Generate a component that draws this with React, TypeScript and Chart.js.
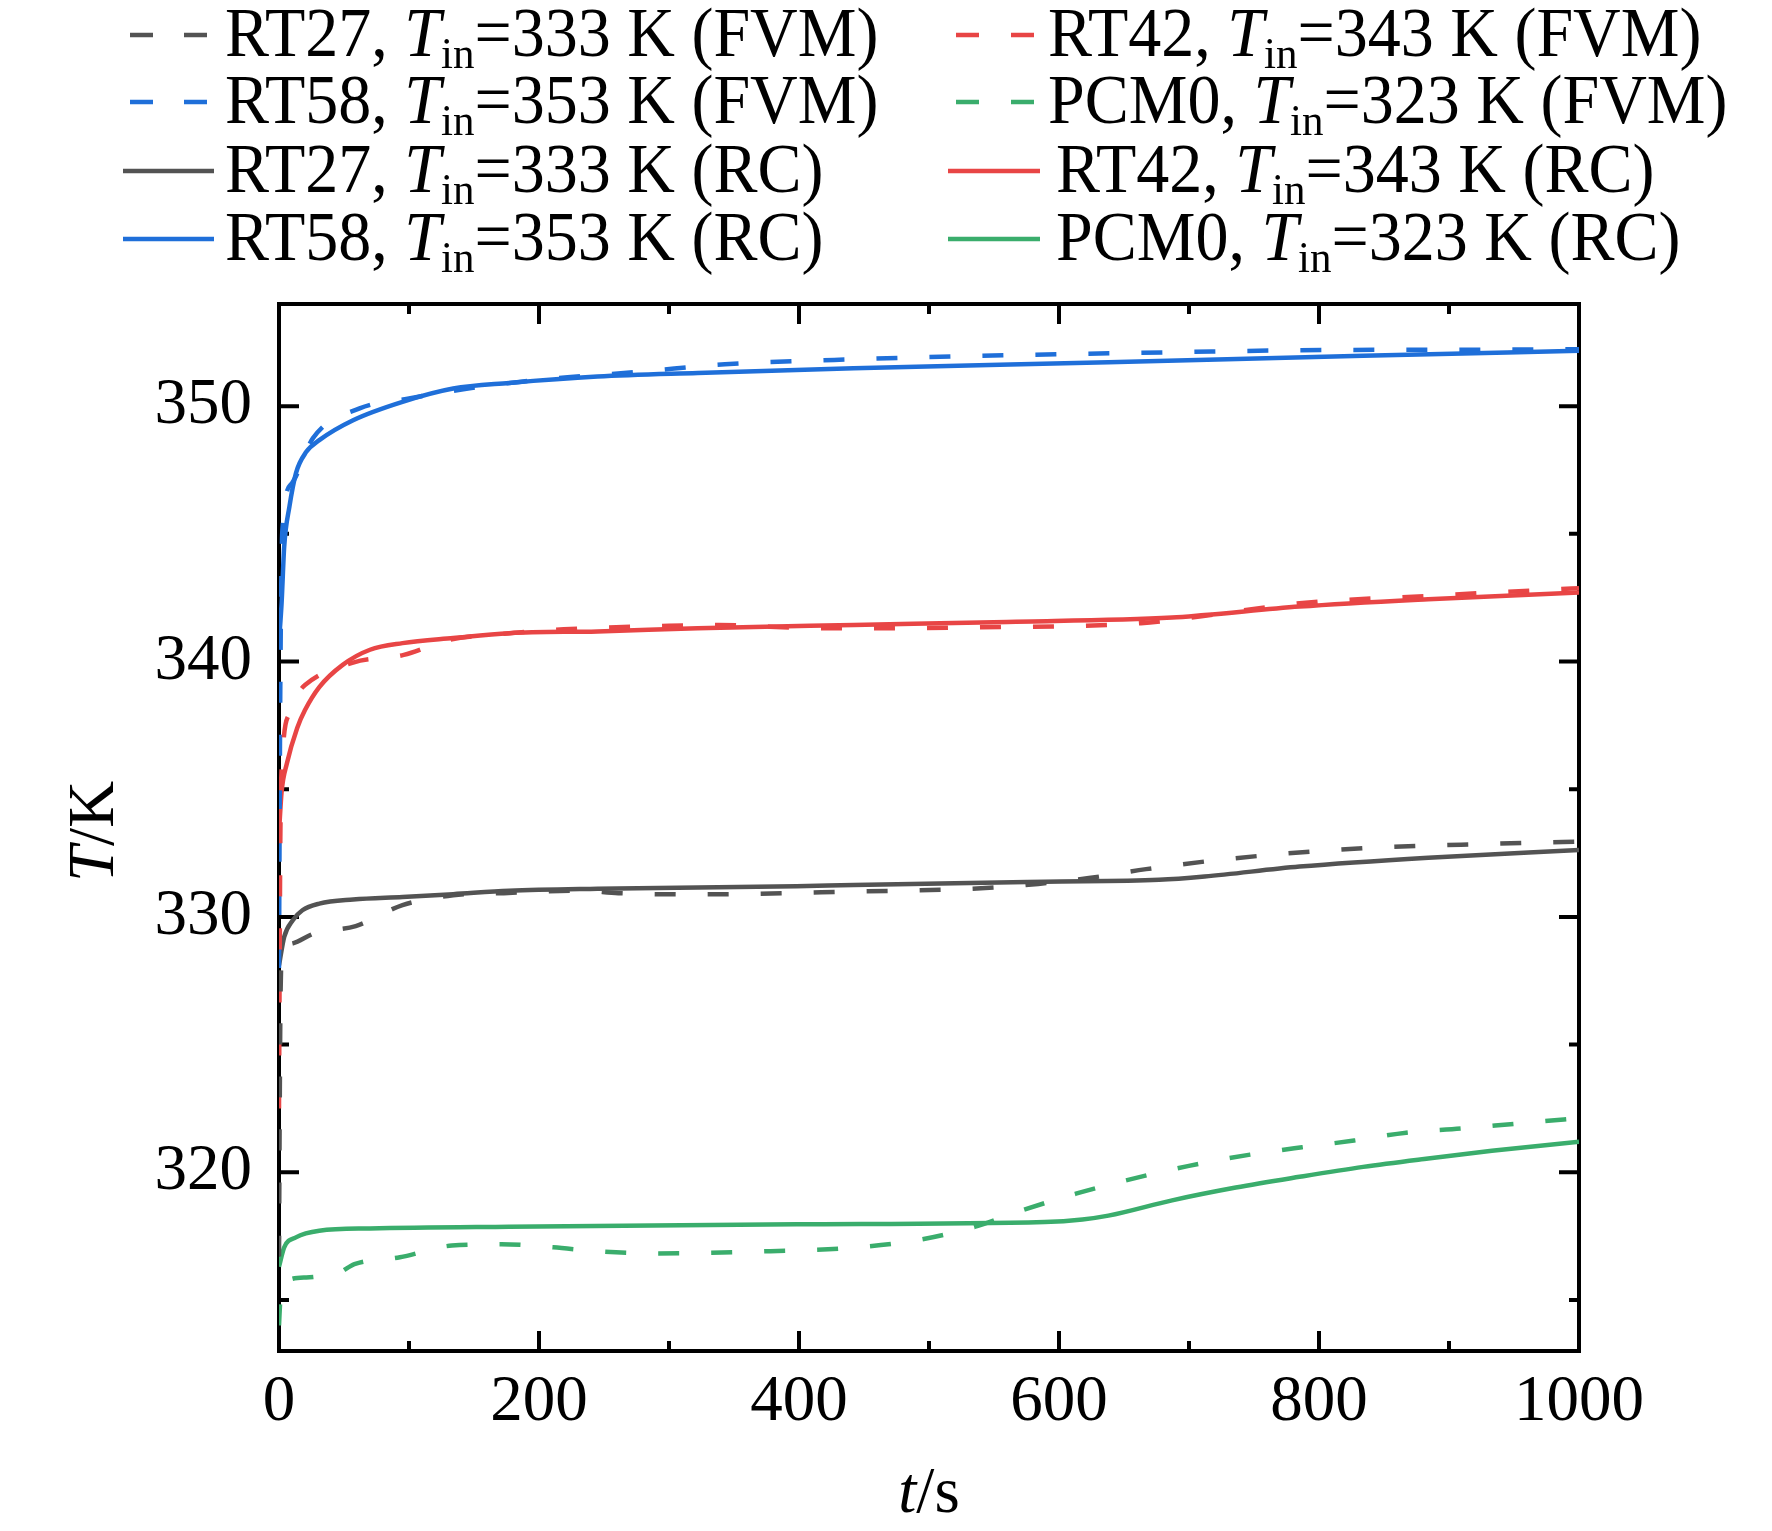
import { useEffect, useRef } from "react";
import { Chart, registerables } from "chart.js";

Chart.register(...registerables);

const FONT = '"Liberation Serif", "Times New Roman", serif';

const xTicks = [0, 200, 400, 600, 800, 1000];
const xMinorTicks = [100, 300, 500, 700, 900];
const yTicks = [320, 330, 340, 350];
const yMinorTicks = [315, 325, 335, 345];

// RT27, Tin = 333 K
const rt27FvmTime = [0, 0.5, 1.2, 2.5, 10.6, 27, 59, 95, 134, 173, 232, 261, 320, 441, 540, 584, 623, 667, 736, 834, 933, 1000];
const rt27FvmTemp = [316.7, 322, 327, 328.5, 328.96, 329.35, 329.64, 330.46, 330.85, 330.93, 331.03, 330.93, 330.88, 330.99, 331.12, 331.29, 331.52, 331.87, 332.3, 332.69, 332.86, 332.95];
const rt27RcTime = [0, 4, 10.6, 18, 31, 57, 95, 134, 177, 245, 398, 442, 589, 677, 712, 785, 884, 1000];
const rt27RcTemp = [328.1, 329.22, 329.87, 330.26, 330.52, 330.68, 330.78, 330.89, 331.02, 331.1, 331.2, 331.25, 331.38, 331.45, 331.58, 331.97, 332.32, 332.62];

// RT42, Tin = 343 K
const rt42FvmTime = [0, 0.5, 1, 3, 8, 14, 20, 57, 96, 131, 172, 219, 300, 338, 417, 540, 663, 702, 785, 884, 1000];
const rt42FvmTemp = [322.5, 328, 333, 336.5, 338.0, 338.7, 339.08, 339.96, 340.26, 340.85, 341.08, 341.26, 341.4, 341.43, 341.3, 341.34, 341.5, 341.72, 342.28, 342.57, 342.87];
const rt42RcTime = [0, 2, 6, 14, 20, 31, 49, 70, 95, 134, 177, 245, 322, 442, 560, 687, 712, 785, 884, 1000];
const rt42RcTemp = [333.3, 334.9, 336.0, 337.4, 338.1, 339.0, 339.87, 340.46, 340.72, 340.92, 341.11, 341.18, 341.3, 341.43, 341.55, 341.72, 341.82, 342.15, 342.44, 342.7];

// RT58, Tin = 353 K
const rt58FvmTime = [0, 0.5, 1, 2.6, 9.9, 26, 62, 101, 143, 183, 222, 263, 304, 343, 427, 540, 687, 785, 908, 1000];
const rt58FvmTemp = [328, 334, 339, 345.15, 346.98, 348.74, 349.91, 350.31, 350.67, 350.94, 351.13, 351.29, 351.47, 351.64, 351.81, 351.97, 352.11, 352.19, 352.21, 352.23];
const rt58RcTime = [0, 2, 4, 8, 13, 21, 31, 57, 95, 134, 177, 245, 322, 442, 638, 834, 1000];
const rt58RcTemp = [340.8, 342.3, 344.5, 346.06, 347.37, 348.21, 348.67, 349.45, 350.17, 350.69, 350.91, 351.16, 351.3, 351.48, 351.72, 351.97, 352.17];

// PCM0, Tin = 323 K
const pcm0FvmTime = [0, 1, 4, 21, 35, 44, 58, 93, 133, 171, 211, 246, 290, 378, 442, 491, 535, 573, 613, 650, 699, 747, 787, 827, 867, 909, 951, 1000];
const pcm0FvmTemp = [314.0, 315.0, 315.69, 315.88, 315.95, 316.0, 316.4, 316.67, 317.13, 317.18, 317.06, 316.9, 316.82, 316.91, 317.05, 317.34, 317.86, 318.53, 319.16, 319.66, 320.24, 320.69, 320.98, 321.24, 321.55, 321.71, 321.9, 322.12];
const pcm0RcTime = [0, 4, 13, 31, 70, 177, 398, 589, 618, 638, 687, 736, 785, 834, 884, 933, 1000];
const pcm0RcTemp = [316.3, 317.06, 317.45, 317.71, 317.8, 317.87, 317.96, 318.05, 318.15, 318.3, 318.9, 319.4, 319.82, 320.21, 320.54, 320.84, 321.19];

const GRAY = "#535353";
const RED = "#e84545";
const BLUE = "#1f6fd9";
const GREEN = "#3aad6c";
const DASH = [21, 32];

interface Series {
  material: string;
  tin: number;
  method: string;
  time: number[];
  temp: number[];
  color: string;
  dashed: boolean;
}

const series: Series[] = [
  { material: "RT27", tin: 333, method: "FVM", time: rt27FvmTime, temp: rt27FvmTemp, color: GRAY, dashed: true },
  { material: "RT42", tin: 343, method: "FVM", time: rt42FvmTime, temp: rt42FvmTemp, color: RED, dashed: true },
  { material: "RT58", tin: 353, method: "FVM", time: rt58FvmTime, temp: rt58FvmTemp, color: BLUE, dashed: true },
  { material: "PCM0", tin: 323, method: "FVM", time: pcm0FvmTime, temp: pcm0FvmTemp, color: GREEN, dashed: true },
  { material: "RT27", tin: 333, method: "RC", time: rt27RcTime, temp: rt27RcTemp, color: GRAY, dashed: false },
  { material: "RT42", tin: 343, method: "RC", time: rt42RcTime, temp: rt42RcTemp, color: RED, dashed: false },
  { material: "RT58", tin: 353, method: "RC", time: rt58RcTime, temp: rt58RcTemp, color: BLUE, dashed: false },
  { material: "PCM0", tin: 323, method: "RC", time: pcm0RcTime, temp: pcm0RcTemp, color: GREEN, dashed: false },
];

// legend grid: row by row, two columns (indices into series)
const legendOrder = [0, 1, 2, 3, 4, 5, 6, 7];

type Part = { text: string; italic?: boolean; sub?: boolean };

function drawRichText(
  ctx: CanvasRenderingContext2D,
  parts: Part[],
  x: number,
  baseline: number,
  size: number,
  stretch = 1,
) {
  ctx.save();
  ctx.translate(x, baseline);
  ctx.scale(1, stretch);
  let cx = 0;
  for (const p of parts) {
    const s = p.sub ? Math.round(size * 0.65) : size;
    ctx.font = `${p.italic ? "italic " : ""}${s}px ${FONT}`;
    ctx.fillText(p.text, cx, p.sub ? size * 0.18 : 0);
    cx += ctx.measureText(p.text).width;
  }
  ctx.restore();
  return cx;
}

function measureRich(ctx: CanvasRenderingContext2D, parts: Part[], size: number) {
  let w = 0;
  for (const p of parts) {
    const s = p.sub ? Math.round(size * 0.65) : size;
    ctx.font = `${p.italic ? "italic " : ""}${s}px ${FONT}`;
    w += ctx.measureText(p.text).width;
  }
  return w;
}

const framePlugin = {
  id: "frameTicks",
  beforeDraw(chart: Chart) {
    const { ctx, width, height } = chart;
    ctx.save();
    ctx.fillStyle = "#ffffff";
    ctx.fillRect(0, 0, width, height);
    ctx.restore();
  },
  beforeDatasetsDraw(chart: Chart) {
    const { ctx, chartArea: a, scales } = chart;
    const xs = scales.x;
    const ys = scales.y;
    ctx.save();
    ctx.strokeStyle = "#000000";
    ctx.lineWidth = 4;
    ctx.lineCap = "butt";
    ctx.strokeRect(a.left, a.top, a.right - a.left, a.bottom - a.top);
    ctx.beginPath();
    const xTick = (v: number, len: number) => {
      const px = xs.getPixelForValue(v);
      ctx.moveTo(px, a.bottom);
      ctx.lineTo(px, a.bottom - len);
      ctx.moveTo(px, a.top);
      ctx.lineTo(px, a.top + len);
    };
    const yTick = (v: number, len: number) => {
      const py = ys.getPixelForValue(v);
      ctx.moveTo(a.left, py);
      ctx.lineTo(a.left + len, py);
      ctx.moveTo(a.right, py);
      ctx.lineTo(a.right - len, py);
    };
    xTicks.forEach((v) => xTick(v, 20));
    xMinorTicks.forEach((v) => xTick(v, 10));
    yTicks.forEach((v) => yTick(v, 20));
    yMinorTicks.forEach((v) => yTick(v, 10));
    ctx.stroke();
    ctx.restore();
  },
  afterDraw(chart: Chart) {
    const { ctx, chartArea: a } = chart;
    ctx.save();
    ctx.fillStyle = "#000000";
    ctx.textBaseline = "alphabetic";
    ctx.textAlign = "left";

    // axis titles
    const xTitle: Part[] = [{ text: "t", italic: true }, { text: "/s" }];
    const xw = measureRich(ctx, xTitle, 65);
    drawRichText(ctx, xTitle, (a.left + a.right) / 2 - xw / 2, 1512, 65);

    const yTitle: Part[] = [{ text: "T", italic: true }, { text: "/K" }];
    const yw = measureRich(ctx, yTitle, 65);
    ctx.save();
    ctx.translate(113, (a.top + a.bottom) / 2 + 4);
    ctx.rotate(-Math.PI / 2);
    drawRichText(ctx, yTitle, -yw / 2, 0, 65);
    ctx.restore();

    // legend
    const rowY = [35, 102, 171, 239];
    const cols = [
      { solid: [123, 214], dash: [130, 207], textFvm: 225, textRc: 225 },
      { solid: [948, 1040], dash: [956, 1034], textFvm: 1048, textRc: 1056 },
    ];
    legendOrder.forEach((si, i) => {
      const s = series[si];
      const col = cols[i % 2];
      const cy = rowY[Math.floor(i / 2)];
      const seg = s.dashed ? col.dash : col.solid;
      ctx.beginPath();
      ctx.strokeStyle = s.color;
      ctx.lineWidth = 4.5;
      ctx.setLineDash(s.dashed ? [23, seg[1] - seg[0] - 46] : []);
      ctx.moveTo(seg[0], cy);
      ctx.lineTo(seg[1], cy);
      ctx.stroke();
      ctx.setLineDash([]);
      ctx.fillStyle = "#000000";
      drawRichText(
        ctx,
        [
          { text: `${s.material}, ` },
          { text: "T", italic: true },
          { text: "in", sub: true },
          { text: `=${s.tin} K (${s.method})` },
        ],
        s.method === "FVM" ? col.textFvm : col.textRc,
        cy + 21,
        66,
        1.05,
      );
    });
    ctx.restore();
  },
};

export default function App() {
  const canvasRef = useRef<HTMLCanvasElement | null>(null);

  useEffect(() => {
    if (!canvasRef.current) return;
    const chart = new Chart(canvasRef.current, {
      type: "line",
      data: {
        datasets: series.map((s) => ({
          label: `${s.material}, Tin=${s.tin} K (${s.method})`,
          data: s.time.map((t, i) => ({ x: t, y: s.temp[i] })),
          borderColor: s.color,
          backgroundColor: s.color,
          borderWidth: 4.5,
          borderDash: s.dashed ? DASH : [],
          borderCapStyle: "butt" as const,
          pointRadius: 0,
          pointHoverRadius: 0,
          cubicInterpolationMode: "monotone" as const,
          fill: false,
        })),
      },
      options: {
        responsive: false,
        animation: false,
        events: [],
        layout: { padding: { top: 304, right: 193, left: 0, bottom: 0 } },
        plugins: {
          legend: { display: false },
          tooltip: { enabled: false },
          title: { display: false },
        },
        scales: {
          x: {
            type: "linear",
            min: 0,
            max: 1000,
            grid: { display: false, drawTicks: false },
            border: { display: false },
            afterBuildTicks: (scale) => {
              scale.ticks = xTicks.map((v) => ({ value: v }));
            },
            afterFit: (scale) => {
              scale.height = 180;
            },
            ticks: {
              color: "#000000",
              padding: 13,
              maxRotation: 0,
              font: { family: FONT, size: 65 },
              callback: (v) => String(v),
            },
          },
          y: {
            type: "linear",
            min: 313,
            max: 354,
            grid: { display: false, drawTicks: false },
            border: { display: false },
            afterBuildTicks: (scale) => {
              scale.ticks = yTicks.map((v) => ({ value: v }));
            },
            afterFit: (scale) => {
              scale.width = 279;
            },
            ticks: {
              color: "#000000",
              padding: 27,
              font: { family: FONT, size: 65 },
              callback: (v) => String(v),
            },
          },
        },
      },
      plugins: [framePlugin],
    });
    return () => chart.destroy();
  }, []);

  return (
    <div style={{ position: "absolute", left: 0, top: 0, width: 1772, height: 1531, background: "#ffffff" }}>
      <canvas ref={canvasRef} width={1772} height={1531} />
    </div>
  );
}
